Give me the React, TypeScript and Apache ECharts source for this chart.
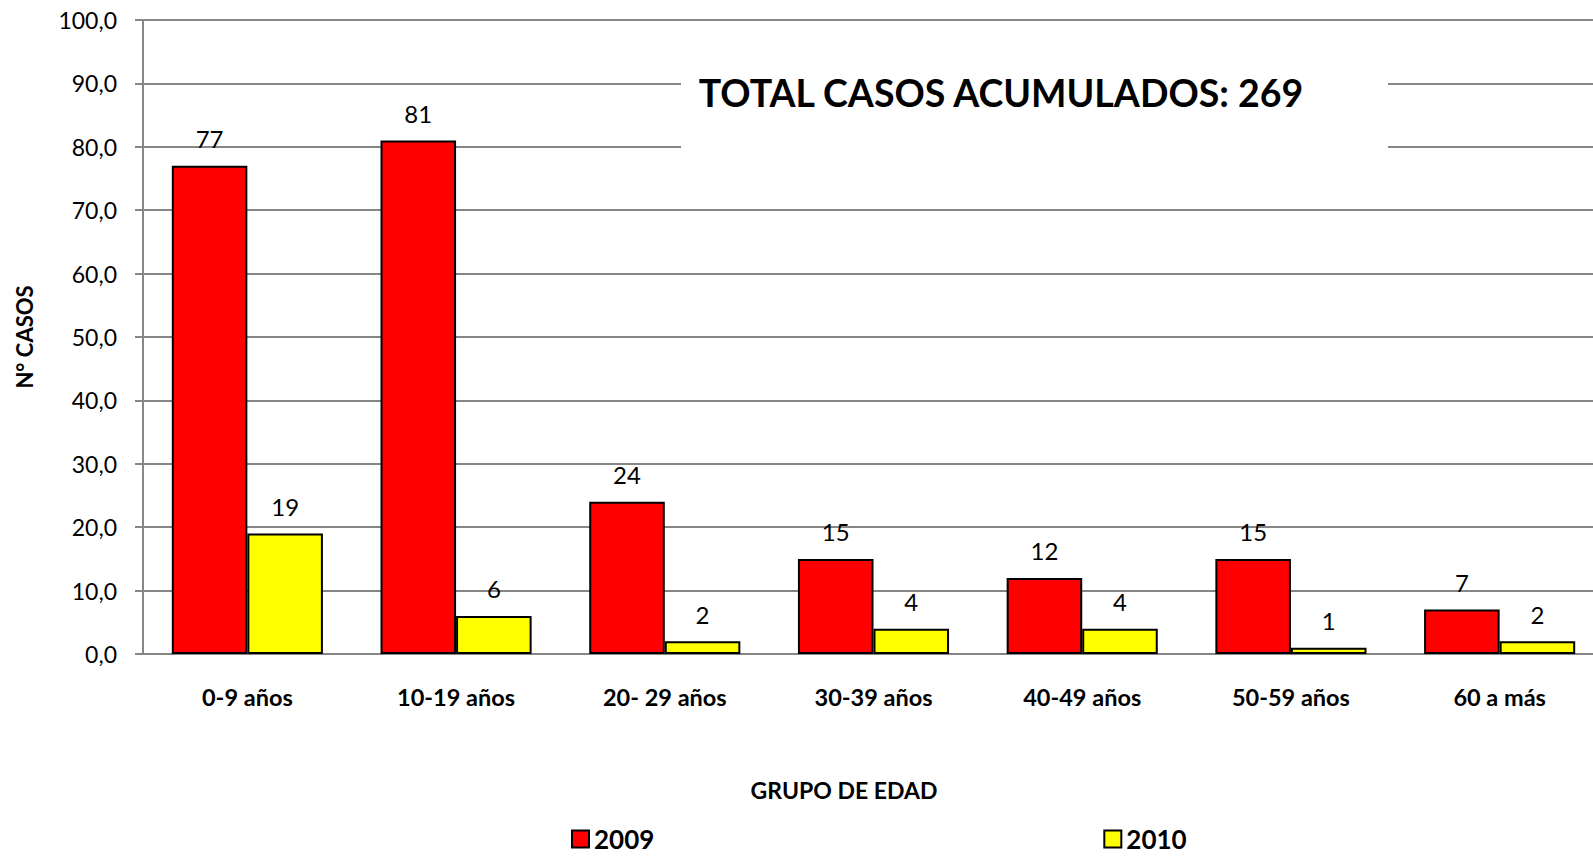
import React, { useEffect, useRef } from "react";
import * as echarts from "echarts";

const categories = ["0-9 años", "10-19 años", "20- 29 años", "30-39 años", "40-49 años", "50-59 años", "60 a más"];
const series2009 = [77, 81, 24, 15, 12, 15, 7];
const series2010 = [19, 6, 2, 4, 4, 1, 2];
const seriesNames = ["2009", "2010"];
const titleText = "TOTAL CASOS ACUMULADOS: 269";
const yAxisName = "N° CASOS";
const xAxisName = "GRUPO DE EDAD";

const FONT = "Lato, 'Open Sans', sans-serif";

export default function App() {
  const ref = useRef<HTMLDivElement>(null);
  useEffect(() => {
    if (!ref.current) return;
    const chart = echarts.init(ref.current, null, { renderer: "svg" });
    const labelStyle = {
      show: true,
      position: "top",
      distance: 15,
      color: "#000",
      fontSize: 24,
      fontFamily: FONT,
    };
    chart.setOption({
      animation: false,
      backgroundColor: "#fff",
      textStyle: { fontFamily: FONT },
      grid: { left: 143, top: 20, height: 634, width: 1461, containLabel: false, outerBoundsMode: "none" },
      legend: {
        data: seriesNames,
        left: 571,
        top: 826,
        padding: 0,
        itemGap: 449,
        itemWidth: 17,
        itemHeight: 17,
        icon: "rect",
        itemStyle: { borderColor: "#000", borderWidth: 2 },
        textStyle: { fontSize: 26, lineHeight: 24, fontWeight: "bold", color: "#000", fontFamily: FONT },
      },
      xAxis: {
        type: "category",
        data: categories,
        axisLine: { show: true, lineStyle: { color: "#868686", width: 2 } },
        axisTick: { show: false },
        axisLabel: { margin: 31, fontSize: 23.5, fontWeight: "bold", color: "#000", fontFamily: FONT },
      },
      yAxis: {
        type: "value",
        min: 0,
        max: 100,
        interval: 10,
        name: yAxisName,
        nameLocation: "middle",
        nameGap: 108,
        nameRotate: 90,
        nameTextStyle: { fontSize: 22, fontWeight: "bold", color: "#000", fontFamily: FONT },
        axisLine: { show: true, lineStyle: { color: "#868686", width: 2 } },
        axisTick: { show: true, length: 8, lineStyle: { color: "#868686", width: 2 } },
        axisLabel: {
          margin: 26,
          fontSize: 23,
          color: "#000",
          fontFamily: FONT,
          formatter: (v: number) => v.toFixed(1).replace(".", ","),
        },
        splitLine: { show: true, lineStyle: { color: "#868686", width: 2 } },
      },
      series: [
        {
          name: seriesNames[0],
          type: "bar",
          data: series2009,
          barGap: "0%",
          barCategoryGap: "27.6%",
          itemStyle: { color: "#ff0000", borderColor: "#000", borderWidth: 2 },
          label: labelStyle,
        },
        {
          name: seriesNames[1],
          type: "bar",
          data: series2010,
          barGap: "0%",
          barCategoryGap: "27.6%",
          itemStyle: { color: "#ffff00", borderColor: "#000", borderWidth: 2 },
          label: labelStyle,
        },
      ],
      graphic: [
        {
          type: "rect",
          z: 100,
          shape: { x: 681, y: 45, width: 707, height: 140 },
          style: { fill: "#fff" },
        },
        {
          type: "text",
          z: 101,
          x: 1001,
          y: 92,
          style: {
            text: titleText,
            fontSize: 37.5,
            fontWeight: "bold",
            fill: "#000",
            fontFamily: FONT,
            align: "center",
            verticalAlign: "middle",
          },
        },
        {
          type: "text",
          z: 101,
          x: 844,
          y: 790,
          style: {
            text: xAxisName,
            fontSize: 23,
            fontWeight: "bold",
            fill: "#000",
            fontFamily: FONT,
            align: "center",
            verticalAlign: "middle",
          },
        },
      ],
    });
    return () => chart.dispose();
  }, []);
  return <div ref={ref} style={{ width: 1593, height: 856, position: "absolute", left: 0, top: 0 }} />;
}
